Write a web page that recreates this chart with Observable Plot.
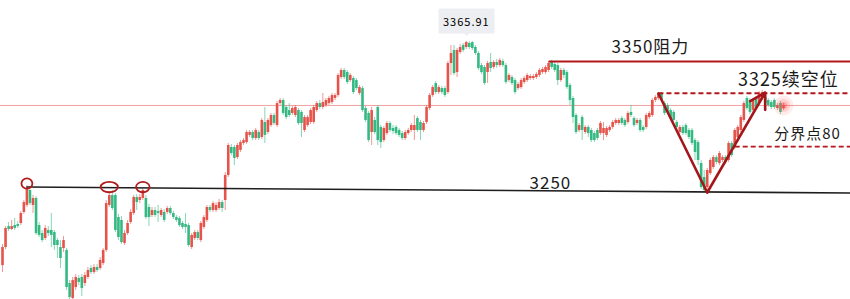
<!DOCTYPE html>
<html>
<head>
<meta charset="utf-8">
<script src="https://cdn.jsdelivr.net/npm/d3@7"></script>
<script src="https://cdn.jsdelivr.net/npm/@observablehq/plot@0.6"></script>
<style>
  html, body { margin: 0; padding: 0; background: #fff; overflow: hidden; }
  #chart svg { display: block; }
</style>
</head>
<body>
<div id="chart"></div>
<script>
// ---------- candle data (prices) ----------
const opens = [
3189.4,3203.6,3220.1,3217.8,3220.9,3221.7,3222.5,3231.2,3236.7,3248.5,
3236.7,3242.2,3220.9,3214.6,3210.7,3217.0,3217.0,3215.4,3209.1,3203.6,
3202.8,3201.3,3175.3,3163.5,3172.1,3179.2,3180.0,3175.3,3180.0,3187.1,
3183.9,3187.9,3187.1,3191.0,3201.3,3236.7,3244.5,3244.5,3227.2,3224.9,
3206.8,3214.6,3223.3,3230.4,3243.0,3240.6,3242.2,3242.2,
3235.1,3228.8,3232.7,3231.9,3228.8,3231.2,3231.2,3234.3,3230.4,
3227.2,3226.4,3222.5,3221.7,3220.9,3203.6,3210.7,3215.4,3209.1,3219.4,
3224.9,3235.1,3232.7,3232.7,3234.3,3239.0,3240.6,3260.3,3282.3,3282.3,
3274.4,3280.0,3285.5,3286.2,3291.8,3294.1,3289.4,3294.1,3290.2,3302.0,
3294.1,3299.6,3307.5,3299.6,3316.9,3319.3,3313.8,3311.4,3309.1,
3307.5,3311.4,3309.9,3295.7,3299.6,3302.0,3302.0,3311.4,3316.9,3313.8,
3315.4,3316.9,3317.7,3320.9,3323.2,3337.4,3342.9,3341.3,3335.0,
3336.6,3335.0,3324.8,3328.7,3313.0,3309.1,3294.1,3303.6,3313.8,3298.1,
3287.8,3293.3,3301.2,3297.3,3298.1,3295.7,3293.3,3289.4,3293.3,3295.7,3295.7,
3305.1,3302.0,3295.7,3302.0,3313.0,3323.2,3332.7,3325.6,3328.7,3328.7,
3325.6,3348.4,3358.7,3341.3,3357.1,3362.6,3361.0,3364.2,3364.9,3361.0,
3356.3,3346.8,3345.3,3341.3,3349.2,3345.3,3349.2,3346.8,3350.0,3346.8,3335.0,
3337.4,3335.0,3328.7,3329.5,3333.5,3335.0,3336.6,3336.6,3337.4,3339.0,3341.3,
3341.3,3342.9,3349.2,3347.6,3346.8,3335.0,3342.9,3341.3,3331.1,3320.9,
3307.5,3295.7,3305.9,3294.1,3298.1,3295.7,3293.3,3295.7,3293.3,3293.3,
3291.8,3295.7,3298.1,3301.2,3301.2,3305.1,3303.6,3302.0,3309.9,3305.1,
3301.2,3303.6,3298.1,3298.1,3305.9,3307.5,3319.3,3320.9,3324.8,3316.9,
3315.4,3311.4,3309.9,3302.0,3294.1,3298.1,3299.6,3295.7,3295.7,3287.8,
3286.2,3269.7,3258.7,3250.8,3261.8,3266.6,3274.4,3269.7,3272.1,3274.4,
3272.1,3285.5,3282.3,3290.2,3295.7,3303.6,3320.9,3319.3,3311.4,3320.9,
3316.9,3320.9,3321.7,3319.3,3317.7,3319.3,3313.0,3316.9,3313.0
];
const highs = [
3206.0,3220.1,3223.3,3224.9,3226.4,3224.1,3231.9,3240.6,3252.4,3251.6,
3244.5,3243.7,3223.3,3217.0,3220.9,3220.1,3230.4,3217.0,3210.7,3209.1,
3212.3,3202.8,3177.6,3180.0,3182.4,3181.6,3182.4,3183.9,3187.9,3189.4,
3190.2,3190.2,3195.7,3202.8,3240.6,3247.7,3248.5,3246.1,3229.6,3228.0,
3217.0,3224.9,3233.5,3244.5,3245.3,3245.3,3250.0,3244.5,
3237.5,3235.1,3235.1,3236.7,3234.3,3233.5,3235.9,3235.9,3231.9,
3228.8,3228.0,3224.1,3230.4,3222.5,3214.6,3217.0,3217.0,3224.1,3228.8,
3236.7,3236.7,3239.8,3239.0,3241.4,3240.6,3262.6,3285.5,3284.7,3283.9,
3285.5,3287.8,3289.4,3295.7,3295.7,3295.7,3297.3,3295.7,3305.1,3313.8,
3305.1,3309.1,3309.1,3318.5,3320.9,3320.9,3315.4,3316.9,3314.6,
3315.4,3313.0,3311.4,3307.5,3307.5,3313.0,3315.4,3318.5,3319.3,3324.8,
3320.9,3322.4,3324.8,3324.8,3340.5,3344.5,3344.5,3342.9,3340.5,
3338.2,3336.6,3331.1,3330.3,3314.6,3310.6,3313.8,3305.9,3315.4,3299.6,
3298.8,3302.8,3302.8,3299.6,3299.6,3297.3,3294.9,3295.7,3297.3,3301.2,3307.5,
3306.7,3303.6,3302.8,3315.4,3324.8,3331.1,3334.3,3331.1,3330.3,3330.3,
3350.0,3362.6,3362.6,3360.2,3363.4,3364.2,3365.91,3365.7,3365.7,3362.6,
3357.9,3348.4,3346.8,3350.0,3356.3,3350.8,3351.6,3352.4,3351.6,3348.4,3340.5,
3339.0,3336.6,3333.5,3336.6,3338.2,3340.5,3339.8,3339.8,3341.3,3344.5,3345.3,
3346.8,3350.0,3350.8,3349.2,3348.4,3344.5,3344.5,3342.9,3332.7,3322.4,
3309.1,3301.2,3307.5,3299.6,3299.6,3297.3,3294.9,3297.3,3302.8,3302.0,
3298.8,3299.6,3303.6,3305.1,3305.1,3306.7,3305.1,3310.6,3315.4,3306.7,
3305.1,3305.1,3299.6,3309.1,3310.6,3320.9,3323.2,3325.6,3325.6,3318.5,
3316.9,3313.0,3311.4,3303.6,3299.6,3299.6,3301.2,3297.3,3297.3,3289.4,
3287.8,3272.1,3264.2,3265.8,3273.7,3276.0,3276.0,3279.2,3276.0,3276.0,
3287.0,3287.0,3297.3,3299.6,3307.5,3318.5,3322.4,3320.9,3320.9,3322.4,
3326.4,3327.2,3323.2,3320.9,3319.3,3320.9,3316.9,3318.5,3316.9
];
const lows = [
3183.9,3202.0,3216.2,3217.0,3217.0,3218.6,3220.9,3229.6,3235.1,3236.7,
3230.4,3213.1,3211.5,3207.5,3209.1,3212.3,3203.6,3201.3,3195.0,3187.1,
3199.7,3169.8,3162.7,3162.7,3169.8,3173.7,3165.0,3172.9,3178.4,3182.4,
3182.4,3183.9,3185.5,3189.4,3199.7,3235.1,3232.7,3215.4,3209.1,3206.0,
3205.2,3213.1,3221.7,3228.8,3232.7,3238.2,3240.6,3225.6,
3220.1,3227.2,3227.2,3223.3,3227.2,3223.3,3229.6,3228.8,3225.6,
3223.3,3219.4,3217.8,3214.6,3203.6,3202.0,3209.1,3209.1,3207.5,3217.8,
3223.3,3231.2,3231.2,3231.2,3232.7,3231.2,3232.7,3258.7,3276.0,3268.1,
3272.9,3278.4,3283.9,3284.7,3290.2,3287.8,3287.8,3287.8,3288.6,3285.5,
3292.5,3298.1,3299.6,3298.1,3315.4,3307.5,3304.3,3305.9,3307.5,
3305.9,3299.6,3290.2,3294.1,3298.1,3300.4,3300.4,3309.9,3312.2,3312.2,
3313.8,3315.4,3316.2,3319.3,3321.7,3335.8,3335.8,3331.9,3333.5,
3324.0,3327.2,3323.2,3309.9,3302.0,3286.2,3283.9,3292.5,3283.9,3281.5,
3286.2,3291.8,3294.1,3292.5,3291.8,3290.2,3287.8,3287.8,3291.8,3294.1,3287.8,
3294.1,3287.8,3294.1,3300.4,3311.4,3321.7,3324.0,3324.0,3324.0,3321.7,
3324.0,3339.0,3339.0,3337.4,3355.5,3357.1,3359.4,3359.4,3358.7,3354.7,
3342.9,3339.8,3331.1,3332.7,3341.3,3343.7,3344.5,3345.3,3345.3,3331.9,3333.5,
3331.1,3324.0,3327.2,3328.0,3331.9,3333.5,3335.0,3335.0,3335.8,3337.4,3339.8,
3339.8,3341.3,3343.7,3341.3,3331.1,3333.5,3336.6,3328.0,3315.4,3301.2,
3292.5,3294.1,3287.8,3292.5,3290.2,3286.2,3286.2,3287.8,3291.8,3287.8,
3290.2,3294.1,3296.5,3299.6,3299.6,3299.6,3298.1,3300.4,3305.9,3298.1,
3299.6,3294.1,3294.1,3296.5,3304.3,3305.9,3317.7,3319.3,3317.7,3307.5,
3308.3,3303.6,3302.0,3296.5,3292.5,3291.8,3291.8,3288.6,3283.9,3272.1,
3268.1,3249.3,3246.9,3248.5,3260.3,3265.0,3268.9,3268.1,3270.5,3268.9,
3270.5,3274.4,3280.7,3288.6,3294.1,3302.0,3311.4,3308.3,3309.9,3311.4,
3315.4,3319.3,3315.4,3313.8,3312.2,3312.2,3311.4,3308.3,3311.4
];
const closes = [
3203.6,3218.6,3217.8,3220.1,3218.6,3220.1,3230.4,3239.0,3250.0,3238.2,
3242.2,3214.6,3213.1,3209.1,3218.6,3214.6,3213.1,3205.2,3205.2,3195.0,
3209.1,3172.1,3164.3,3177.6,3180.0,3176.1,3171.3,3181.6,3185.5,3183.9,
3187.9,3185.5,3193.4,3201.3,3238.2,3244.5,3234.3,3217.0,3211.5,3207.5,
3214.6,3222.5,3231.2,3243.0,3239.0,3243.0,3248.5,3227.2,
3227.2,3232.7,3228.8,3230.4,3232.7,3224.9,3234.3,3230.4,3227.2,
3224.9,3220.9,3219.4,3219.4,3205.2,3213.1,3215.4,3210.7,3222.5,3227.2,
3235.1,3232.7,3238.2,3236.7,3239.0,3234.3,3260.3,3283.9,3277.6,3273.7,
3283.9,3286.2,3287.8,3294.1,3294.1,3289.4,3295.7,3289.4,3303.6,3291.8,
3303.6,3307.5,3301.2,3316.9,3319.3,3309.1,3305.9,3307.5,3313.0,
3313.8,3301.2,3301.2,3305.9,3305.9,3311.4,3313.8,3316.9,3313.8,3317.7,
3319.3,3320.9,3323.2,3323.2,3339.0,3342.9,3337.4,3333.5,3339.0,
3325.6,3328.7,3329.5,3311.4,3303.6,3287.8,3311.4,3294.1,3287.8,3286.2,
3297.3,3301.2,3295.7,3294.9,3293.3,3291.8,3289.4,3294.1,3295.7,3299.6,3299.6,
3295.7,3295.7,3301.2,3313.8,3323.2,3329.5,3325.6,3329.5,3325.6,3323.2,
3348.4,3356.3,3340.5,3358.7,3361.0,3358.7,3364.9,3361.0,3360.2,3356.3,
3344.5,3341.3,3332.7,3348.4,3344.5,3349.2,3346.8,3350.8,3346.8,3333.5,3339.0,
3332.7,3325.6,3331.9,3335.0,3336.6,3339.0,3338.2,3338.2,3339.8,3342.9,3343.7,
3345.3,3348.4,3345.3,3342.9,3335.0,3342.9,3339.0,3329.5,3319.3,3305.9,
3294.1,3299.6,3295.7,3298.1,3293.3,3287.8,3287.8,3289.4,3301.2,3297.3,
3297.3,3298.1,3302.0,3303.6,3303.6,3301.2,3299.6,3309.1,3307.5,3299.6,
3303.6,3295.7,3295.7,3307.5,3309.1,3319.3,3321.7,3324.8,3319.3,3309.1,
3309.9,3305.1,3303.6,3298.1,3298.1,3293.3,3293.3,3290.2,3285.5,3278.4,
3272.1,3250.8,3248.5,3264.2,3272.1,3274.4,3270.5,3277.6,3274.4,3270.5,
3285.5,3276.0,3295.7,3298.1,3305.9,3316.9,3313.0,3309.9,3319.3,3313.0,
3324.8,3325.6,3316.9,3315.4,3313.8,3313.8,3315.4,3309.9,3315.4
];

// ---------- annotations (candle index, price) ----------
const touchIdx    = [8, 35, 46];
const touchPrice  = [3254.0, 3251.2, 3251.2];
const supportIdx   = [8, null];          // null = right edge
const supportPrice = [3251.2, 3246.5];
const resistPrice = 3350, resistFromIdx = 179;
const shortPrice = 3325, shortFromIdx = 215;
const pivotPrice = 3283, pivotFromIdx = 240;
const vIdx   = [215, 231, 250];
const vPrice = [3324.8, 3246.9, 3325.6];
const peakIdx = 152, peakLabel = "3365.91";
const labels = [
  {t: "3250",      i: 179.6, p: 3254.0, size: 17},
  {t: "3350阻力",   i: 212.4, p: 3361.0, size: 17},
  {t: "3325续空位", i: 257.6, p: 3335.0, size: 18},
  {t: "分界点80",   i: 263.9, p: 3292.5, size: 15}
];

// ---------- layout ----------
const W = 850, H = 299;
const xMin = -0.656, xMax = 277.96;
const yMin = 3162.7, yMax = 3398.0;
const UP = "#e5534b", DOWN = "#35b983";
const DARKRED = "#b3161b";

const candles = opens.map((o, i) => ({i, o, h: highs[i], l: lows[i], c: closes[i],
  col: closes[i] >= o ? UP : DOWN}));
const last = candles[candles.length - 1];

const supportLine = supportIdx.map((ix, k) => ({i: ix == null ? xMax : ix, p: supportPrice[k]}));
const vLine = vIdx.map((ix, k) => ({i: ix, p: vPrice[k]}));
const touches = touchIdx.map((ix, k) => ({i: ix, p: touchPrice[k], k}));
const stretch = [1.05, 1.65, 1.3];

const chart = Plot.plot({
  width: W, height: H, margin: 0,
  style: {fontFamily: "'Noto Sans CJK SC', 'Noto Sans', sans-serif", background: "#fff"},
  x: {type: "linear", domain: [xMin, xMax], axis: null},
  y: {type: "linear", domain: [yMin, yMax], axis: null},
  marks: [
    Plot.ruleY([last.c], {stroke: "#f2a0a0", strokeWidth: 1}),
    Plot.ruleX(candles, {x: "i", y1: "l", y2: "h", stroke: "col", strokeWidth: 1, strokeOpacity: 0.6}),
    Plot.ruleX(candles, {x: "i", y1: "o", y2: d => Math.abs(d.c - d.o) < 0.9 ? d.o + (d.c >= d.o ? 0.9 : -0.9) : d.c, stroke: "col", strokeWidth: 2.6}),
    // support 3250
    Plot.line(supportLine, {x: "i", y: "p", stroke: "#1e1e1e", strokeWidth: 1.6}),
    // 3350 resistance
    Plot.link([{a: resistFromIdx, b: xMax, p: resistPrice}], {x1: "a", x2: "b", y1: "p", y2: "p", stroke: DARKRED, strokeWidth: 2}),
    // 3325 dashed
    Plot.link([{a: shortFromIdx, b: xMax, p: shortPrice}], {x1: "a", x2: "b", y1: "p", y2: "p", stroke: DARKRED, strokeWidth: 1.8, strokeDasharray: "5,3"}),
    // pivot dashed
    Plot.link([{a: pivotFromIdx, b: xMax, p: pivotPrice}], {x1: "a", x2: "b", y1: "p", y2: "p", stroke: DARKRED, strokeWidth: 1.8, strokeDasharray: "5,3"}),
    // V shape
    Plot.line(vLine.slice(0, 2), {x: "i", y: "p", stroke: "#a3161a", strokeWidth: 2.6}),
    Plot.arrow([{a: vLine[1], b: vLine[2]}], {x1: d => d.a.i, y1: d => d.a.p, x2: d => d.b.i, y2: d => d.b.p,
      stroke: "#a3161a", strokeWidth: 2.6, headLength: 10, bend: 0}),
    // touch circles
    Plot.dot(touches, {x: "i", y: "p", r: 5.2, stroke: "#b01c1c", fill: "none", strokeWidth: 1.8,
      render(index, scales, values, dims, ctx, next) {
        const g = next(index, scales, values, dims, ctx);
        d3.select(g).selectAll("circle").each(function (_, n) {
          const k = index[n];
          const cx = +this.getAttribute("cx"), cy = +this.getAttribute("cy");
          this.setAttribute("transform", `translate(${cx},${cy}) scale(${stretch[k]},1) translate(${-cx},${-cy})`);
          this.setAttribute("vector-effect", "non-scaling-stroke");
        });
        return g;
      }}),
    // glow on last price
    Plot.dot([last], {x: "i", y: "c", r: 10, fill: "#ff5a5a", fillOpacity: 0.12}),
    Plot.dot([last], {x: "i", y: "c", r: 6.5, fill: "#ff5a5a", fillOpacity: 0.2}),
    Plot.dot([last], {x: "i", y: "c", r: 3.5, fill: "#ff4a4a", fillOpacity: 0.35}),
    // labels
    Plot.text(labels, {x: "i", y: "p", text: "t", fontSize: "size", fill: "#1a1a1a", textAnchor: "middle", lineAnchor: "middle"}),
    // peak tip
    Plot.tip([{i: peakIdx, p: highs[peakIdx]}], {x: "i", y: "p", dy: -6, title: () => peakLabel, anchor: "bottom",
      fill: "#eceef1", stroke: "#eceef1", fontSize: 11, textPadding: 4, pointerSize: 5, pathFilter: "none"})
  ]
});
d3.select(chart).selectAll("text").attr("letter-spacing", "1");
document.getElementById("chart").appendChild(chart);
d3.select(chart).selectAll("text, tspan").each(function () {
  if (!this.getAttribute("font-size")) this.setAttribute("font-size", getComputedStyle(this).fontSize);
});
</script>
</body>
</html>
